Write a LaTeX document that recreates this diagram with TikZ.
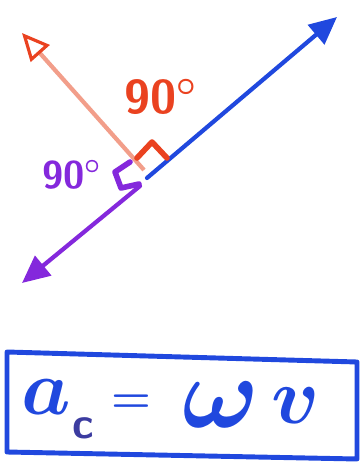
\documentclass[tikz,border=0pt]{standalone}
\usepackage{amsmath}
\usepackage{bm}
\usepackage{xcolor}
\usetikzlibrary{positioning,arrows.meta}
\definecolor{penblue}{RGB}{32,72,222}
\definecolor{penred}{RGB}{234,66,32}
\definecolor{penpink}{RGB}{242,158,138}
\definecolor{penpurple}{RGB}{132,40,220}
\definecolor{penslate}{RGB}{60,60,160}

\begin{document}
\begin{tikzpicture}[x=0.02cm, y=-0.02cm,
  vec/.style={line width=2.4pt, line cap=round,
              -{Triangle[length=5.5mm, width=5mm]}},
  rangle/.style={line width=3.2pt, line cap=round, line join=round},
  deg/.style={font=\sffamily\bfseries\fontsize{20}{20}\selectfont, inner sep=0pt},
  sym/.style={text=penblue, inner sep=0pt, font=\fontsize{20}{20}\selectfont}]
  \useasboundingbox (0,0) rectangle (360,469);
  % vectors from the common point
  \coordinate (ob) at (147,178);
  \coordinate (or) at (144,170);
  \coordinate (op) at (140,186);
  \coordinate (tb) at (337,17);
  \coordinate (tr) at (22,33);
  \coordinate (tp) at (22,283);
  \draw[vec, penblue] (ob) -- (tb);
  \draw[line width=2.4pt, penpink,
        -{Triangle[open, length=5.5mm, width=5mm, line width=1.8pt, color=penred]}]
    (or) -- (tr);
  \draw[vec, penpurple] (op) -- (tp);
  % right angle marks
  \draw[rangle, penred] (137,158) -- (152,142) -- (167,158);
  \draw[rangle, penpurple] (130,162) -- (115,172) -- (121,188) -- (139,184);
  \node[deg, text=penred, scale=1.35] (dr) at (161,97) {90$^{\boldsymbol{\circ}}$};
  \node[deg, text=penpurple, scale=1.1] (dp) at (72,175) {90$^{\boldsymbol{\circ}}$};
  % boxed formula
  \draw[penblue, line width=2.8pt, line join=round]
    (7,352) -- (357,362) -- (357,459) -- (7,452) -- cycle;
  \node[sym, scale=2.15] (a) at (46,397) {$\bm{a}$};
  \node[inner sep=0pt, text=penslate, scale=1.25,
        font=\sffamily\bfseries\fontsize{20}{20}\selectfont] (c) at (83,428) {c};
  \node[sym, scale=1.25] (eq) at (131,404) {$\bm{=}$};
  \node[sym, scale=2.8] (om) at (221,405) {$\bm{\omega}$};
  \node[sym, scale=2.2] (v) at (296,406) {$\bm{v}$};
\end{tikzpicture}
\end{document}
